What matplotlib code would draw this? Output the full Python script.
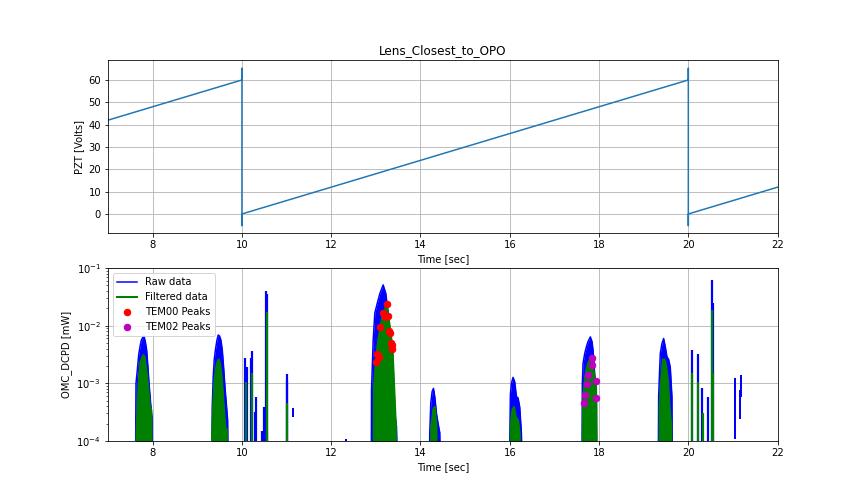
import numpy as np
import matplotlib
matplotlib.use("Agg")
import matplotlib.pyplot as plt

# --- PZT sawtooth (top panel) ---
pzt_t = [7, 10, 10, 10, 10, 20, 20, 20, 20, 22]
pzt_v = [42, 60, 65.2, -5.2, 0, 60, 65.2, -5.2, 0, 12]

# --- OMC_DCPD bursts (bottom panel) ---
raw_burst_t = [
    [7.62, 7.627, 7.657, 7.687, 7.716, 7.746, 7.776, 7.806, 7.836, 7.866, 7.895, 7.925, 7.955, 7.985, 7.99],
    [9.33, 9.335, 9.357, 9.38, 9.41, 9.44, 9.47, 9.50, 9.53, 9.56, 9.59, 9.62, 9.65, 9.68, 9.685],
    [12.90, 12.903, 12.94, 12.977, 13.029, 13.089, 13.164, 13.224, 13.276, 13.313, 13.35, 13.388, 13.425, 13.462, 13.47],
    [14.205, 14.208, 14.231, 14.261, 14.291, 14.32, 14.358, 14.395, 14.432, 14.435],
    [16.0, 16.014, 16.037, 16.074, 16.111, 16.149, 16.186, 16.223, 16.261, 16.265],
    [17.62, 17.626, 17.641, 17.679, 17.716, 17.753, 17.805, 17.843, 17.865, 17.888, 17.91, 17.94, 17.945],
    [19.33, 19.335, 19.357, 19.372, 19.409, 19.447, 19.484, 19.521, 19.559, 19.596, 19.633, 19.638],
]
raw_burst_v = [
    [1e-4, 1.0e-3, 1.7e-3, 3.1e-3, 4.3e-3, 5.6e-3, 6.2e-3, 6.6e-3, 5.3e-3, 3.8e-3, 1.9e-3, 8.7e-4, 4.5e-4, 2.6e-4, 1e-4],
    [1e-4, 3.9e-4, 1.3e-3, 2.6e-3, 4.0e-3, 5.6e-3, 6.9e-3, 6.6e-3, 5.6e-3, 3.8e-3, 1.9e-3, 8.7e-4, 4.5e-4, 2.3e-4, 1e-4],
    [1e-4, 7.7e-4, 5.6e-3, 1.66e-2, 2.4e-2, 3.6e-2, 5.1e-2, 3.6e-2, 1.66e-2, 8.4e-3, 2.9e-3, 7.7e-4, 3.0e-4, 1.8e-4, 1e-4],
    [1e-4, 1.4e-4, 4.6e-4, 7.2e-4, 8.2e-4, 5.9e-4, 3.0e-4, 2.0e-4, 1.4e-4, 1e-4],
    [1e-4, 6.5e-4, 1.0e-3, 1.27e-3, 1.07e-3, 5.9e-4, 5.6e-4, 3.9e-4, 1.37e-4, 1e-4],
    [1e-4, 1.0e-3, 2.2e-3, 3.3e-3, 4.3e-3, 5.3e-3, 6.4e-3, 5.3e-3, 3.8e-3, 2.2e-3, 1.14e-3, 5.9e-4, 1e-4],
    [1e-4, 5.9e-4, 1.7e-3, 3.3e-3, 4.9e-3, 6.0e-3, 4.3e-3, 2.9e-3, 2.6e-3, 1.9e-3, 5.9e-4, 1e-4],
]

filt_burst_t = [
    [7.635, 7.64, 7.67, 7.70, 7.73, 7.76, 7.79, 7.82, 7.85, 7.88, 7.91, 7.94, 7.97, 7.975],
    [9.33, 9.335, 9.365, 9.395, 9.425, 9.455, 9.48, 9.51, 9.54, 9.57, 9.60, 9.63, 9.66, 9.665],
    [12.95, 12.955, 13.0, 13.044, 13.104, 13.156, 13.20, 13.239, 13.283, 13.33, 13.373, 13.403, 13.447, 13.45],
    [14.24, 14.246, 14.283, 14.32, 14.358, 14.36],
    [16.02, 16.022, 16.059, 16.096, 16.134, 16.186, 16.223, 16.225],
    [17.635, 17.641, 17.679, 17.716, 17.753, 17.79, 17.828, 17.865, 17.902, 17.932, 17.94, 17.945],
    [19.355, 19.357, 19.395, 19.432, 19.469, 19.507, 19.544, 19.581, 19.618, 19.62],
]
filt_burst_v = [
    [1e-4, 1.55e-4, 5.9e-4, 1.5e-3, 2.4e-3, 2.7e-3, 3.1e-3, 2.9e-3, 1.9e-3, 1.3e-3, 6.8e-4, 3.9e-4, 3.5e-4, 1e-4],
    [1e-4, 1.7e-4, 5.9e-4, 1.3e-3, 1.9e-3, 2.4e-3, 2.6e-3, 2.2e-3, 1.5e-3, 7.7e-4, 3.5e-4, 1.7e-4, 1.6e-4, 1e-4],
    [1e-4, 7.7e-4, 2.4e-3, 5.0e-3, 9.6e-3, 1.64e-2, 1.9e-2, 2.35e-2, 1.47e-2, 7.4e-3, 4.3e-3, 1.2e-3, 2.0e-4, 1e-4],
    [1e-4, 1.8e-4, 3.5e-4, 3.9e-4, 1.8e-4, 1e-4],
    [1e-4, 1.8e-4, 3.5e-4, 3.9e-4, 2.6e-4, 2.3e-4, 1.37e-4, 1e-4],
    [1e-4, 5.1e-4, 1.14e-3, 1.7e-3, 2.2e-3, 2.6e-3, 2.5e-3, 1.9e-3, 1.3e-3, 1.0e-3, 3.9e-4, 1e-4],
    [1e-4, 3.9e-4, 1.3e-3, 2.6e-3, 2.6e-3, 1.9e-3, 1.14e-3, 3.9e-4, 1.8e-4, 1e-4],
]

# isolated spikes (time, top value)
raw_spike_t = [10.08, 10.11, 10.20, 10.22, 10.30, 10.32, 10.44, 10.50, 10.54, 10.555, 11.00, 11.01,
               20.08, 20.21, 20.31, 20.43, 20.53, 20.545]
raw_spike_v = [2.8e-3, 1.9e-3, 2.8e-3, 3.7e-3, 3.2e-4, 5.8e-4, 1.5e-4, 3.9e-4, 4.0e-2, 3.6e-2, 1.1e-3, 1.46e-3,
               3.8e-3, 3.2e-3, 8.2e-4, 5.9e-4, 6.2e-2, 2.5e-2]
filt_spike_t = [10.09, 10.23, 10.555, 10.57, 11.02, 20.08, 20.22, 20.32, 20.535, 20.555]
filt_spike_v = [1.07e-3, 1.5e-3, 1.75e-2, 1.5e-4, 4.6e-4, 1.5e-3, 1.07e-3, 3.0e-4, 1.87e-2, 1.5e-3]

# short raw segments that float above the bottom
raw_seg_t = [11.155, 12.34, 21.05, 21.15, 21.18]
raw_seg_lo = [2.6e-4, 1.0e-4, 1.1e-4, 2.4e-4, 5.9e-4]
raw_seg_hi = [3.7e-4, 1.1e-4, 1.22e-3, 7.7e-4, 1.4e-3]

# detected peaks
tem00_t = [13.239, 13.156, 13.216, 13.283, 13.104, 13.298, 13.328, 13.335, 13.373, 13.365, 13.037, 13.074, 13.007]
tem00_v = [2.35e-2, 1.64e-2, 1.43e-2, 1.47e-2, 9.6e-3, 8.0e-3, 7.4e-3, 5.1e-3, 4.6e-3, 4.0e-3, 3.2e-3, 2.9e-3, 2.36e-3]
tem02_t = [17.843, 17.835, 17.753, 17.731, 17.932, 17.686, 17.932, 17.663]
tem02_v = [2.8e-3, 2.1e-3, 1.4e-3, 9.8e-4, 1.1e-3, 6.2e-4, 5.5e-4, 4.6e-4]

BOTTOM = 1e-5

fig, (ax1, ax2) = plt.subplots(2, 1, figsize=(12, 7), dpi=72)
fig.subplots_adjust(bottom=0.125, hspace=0.2)

# top panel
ax1.plot(pzt_t, pzt_v)
ax1.set_title('Lens_Closest_to_OPO')
ax1.set_xlabel('Time [sec]')
ax1.set_ylabel('PZT [Volts]')
ax1.set_xlim(7, 22)
ax1.grid(True)

# bottom panel: raw data
for i, (t, v) in enumerate(zip(raw_burst_t, raw_burst_v)):
    ax2.plot(t, v, color='b', linewidth=1.5, label='Raw data' if i == 0 else None)
    ax2.fill_between(t, BOTTOM, v, color='b', linewidth=0, zorder=2)
ax2.vlines(raw_spike_t, BOTTOM, raw_spike_v, color='b', linewidth=2.2, zorder=2)
ax2.vlines(raw_seg_t, raw_seg_lo, raw_seg_hi, color='b', linewidth=2, zorder=2)

# filtered data
for i, (t, v) in enumerate(zip(filt_burst_t, filt_burst_v)):
    ax2.plot(t, v, color='g', linewidth=2, label='Filtered data' if i == 0 else None, zorder=2.1)
    ax2.fill_between(t, BOTTOM, v, color='g', linewidth=0, zorder=2.1)
ax2.vlines(filt_spike_t, BOTTOM, filt_spike_v, color='g', linewidth=2.2, zorder=2.1)

ax2.plot(tem00_t, tem00_v, 'ro', markersize=6.5, label='TEM00 Peaks', zorder=3)
ax2.plot(tem02_t, tem02_v, 'mo', markersize=6.5, label='TEM02 Peaks', zorder=3)

ax2.set_yscale('log')
ax2.set_xlim(7, 22)
ax2.set_ylim(1e-4, 1e-1)
ax2.set_xlabel('Time [sec]')
ax2.set_ylabel('OMC_DCPD [mW]')
ax2.grid(True)
ax2.legend(loc='upper left')

fig.savefig('out.png', dpi=72)
